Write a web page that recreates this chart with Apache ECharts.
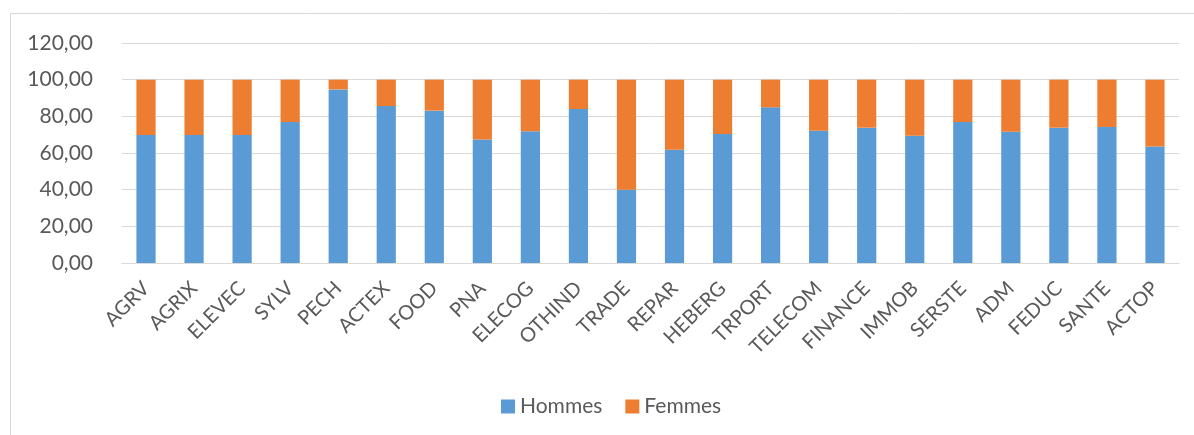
<!DOCTYPE html>
<html>
<head>
<meta charset="utf-8">
<script src="https://cdn.jsdelivr.net/npm/echarts@6/dist/echarts.min.js"></script>
<style>
  html, body { margin: 0; padding: 0; background: #fff; }
  #chart { width: 1194px; height: 435px; }
</style>
</head>
<body>
<div id="chart"></div>
<script>
// secteurs
var categories = ['AGRV', 'AGRIX', 'ELEVEC', 'SYLV', 'PECH', 'ACTEX', 'FOOD', 'PNA', 'ELECOG', 'OTHIND', 'TRADE',
    'REPAR', 'HEBERG', 'TRPORT', 'TELECOM', 'FINANCE', 'IMMOB', 'SERSTE', 'ADM', 'FEDUC', 'SANTE', 'ACTOP'];
var hommes = [69.8, 69.8, 69.8, 76.9, 94.7, 85.6, 83.1, 67.3, 71.8, 84.0, 40.0,
    61.8, 70.3, 84.9, 72.2, 73.8, 69.4, 76.9, 71.6, 73.8, 74.2, 63.5];
var femmes = [30.2, 30.2, 30.2, 23.1, 5.3, 14.4, 16.9, 32.7, 28.2, 16.0, 60.0,
    38.2, 29.7, 15.1, 27.8, 26.2, 30.6, 23.1, 28.4, 26.2, 25.8, 36.5];

var txt = '#595959';
var font = 'Lato, "Open Sans", sans-serif';

var chart = echarts.init(document.getElementById('chart'));
chart.setOption({
    animation: false,
    graphic: [{
        type: 'rect',
        shape: { x: 10.5, y: 13.5, width: 1200, height: 440 },
        style: { fill: 'none', stroke: '#d9d9d9', lineWidth: 1 },
        silent: true
    }],
    grid: { left: 122, right: 15, top: 43, bottom: 172, containLabel: false },
    legend: {
        top: 391,
        left: 496,
        itemWidth: 14,
        itemHeight: 14,
        itemGap: 23,
        icon: 'rect',
        textStyle: { color: txt, fontSize: 21, fontFamily: font },
        data: ['Hommes', 'Femmes']
    },
    xAxis: {
        type: 'category',
        data: categories,
        axisLine: { lineStyle: { color: '#d9d9d9', width: 1 } },
        axisTick: { show: false },
        axisLabel: {
            rotate: 45,
            interval: 0,
            color: txt,
            fontSize: 20,
            fontFamily: font,
            margin: 22
        }
    },
    yAxis: {
        type: 'value',
        min: 0,
        max: 120,
        interval: 20,
        axisLine: { show: false },
        axisTick: { show: false },
        splitLine: { lineStyle: { color: '#d9d9d9', width: 1 } },
        axisLabel: {
            color: txt,
            fontSize: 21,
            fontFamily: font,
            margin: 29,
            formatter: function (v) { return v.toFixed(2).replace('.', ','); }
        }
    },
    series: [
        {
            name: 'Hommes',
            type: 'bar',
            stack: 'total',
            barWidth: '40%',
            itemStyle: { color: '#5B9BD5' },
            data: hommes
        },
        {
            name: 'Femmes',
            type: 'bar',
            stack: 'total',
            itemStyle: { color: '#ED7D31' },
            data: femmes
        }
    ]
});
</script>
</body>
</html>
